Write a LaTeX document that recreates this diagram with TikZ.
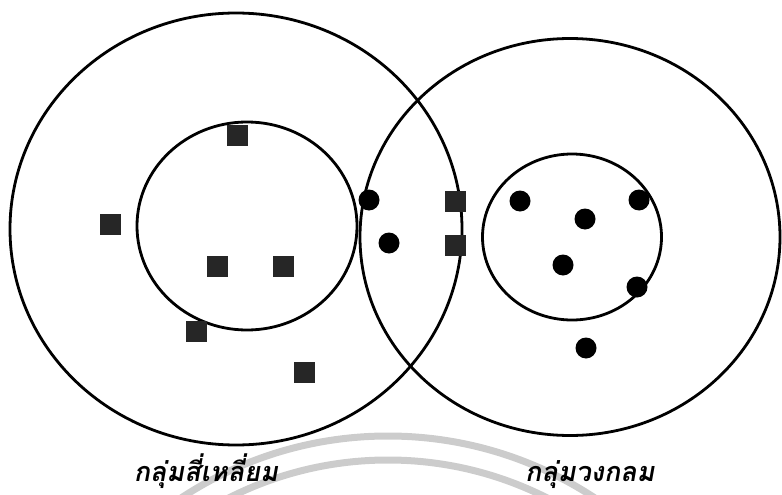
\documentclass[tikz,border=0pt]{standalone}
\usepackage{fontspec}
\newfontfamily\thaifont[Script=Thai, FakeSlant=0.18]{Loma}
\usetikzlibrary{shapes.geometric, positioning}

\begin{document}
\begin{tikzpicture}[x=1pt, y=-1pt]
    % styles
    \tikzstyle{ring} = [ellipse, draw, line width=2.8pt, inner sep=0pt]
    \tikzstyle{sq} = [rectangle, fill=black!85, minimum size=21pt, inner sep=0pt]
    \tikzstyle{blob} = [circle, fill=black, minimum size=21pt, inner sep=0pt]
    \tikzstyle{wm} = [line width=7pt, black!20]
    \tikzstyle{grouptext} = [font=\thaifont\bfseries\fontsize{27}{32}\selectfont, anchor=base, inner sep=0pt]

    \useasboundingbox (0,0) rectangle (782,495);

    % watermark
    \begin{scope}
        \clip (0,0) rectangle (782,495);
        \coordinate (wmc) at (388,812);
        \draw[wm] (wmc) circle[radius=376pt];
        \draw[wm] (wmc) circle[radius=352pt];
    \end{scope}

    % rings
    \node[ring, minimum width=452pt, minimum height=432pt] (sqOuter) at (236,229) {};
    \node[ring, minimum width=220pt, minimum height=208pt] (sqInner) at (247,226) {};
    \node[ring, minimum width=420pt, minimum height=397pt] (ciOuter) at (570,237) {};
    \node[ring, minimum width=179pt, minimum height=166pt] (ciInner) at (572,237) {};

    % squares
    \node[sq] (s1) at (237,135) {};
    \node[sq] (s2) at (110,224) {};
    \node[sq] (s3) at (217,266) {};
    \node[sq] (s4) at (283,266) {};
    \node[sq] (s5) at (196,331) {};
    \node[sq] (s6) at (304,372) {};
    \node[sq] (s7) at (455,201) {};
    \node[sq] (s8) at (455,245) {};

    % dots
    \node[blob] (c1) at (520,201) {};
    \node[blob] (c2) at (585,219) {};
    \node[blob] (c3) at (639,200) {};
    \node[blob] (c4) at (563,265) {};
    \node[blob] (c5) at (637,287) {};
    \node[blob] (c6) at (586,348) {};
    \node[blob] (c7) at (369,200) {};
    \node[blob] (c8) at (389,243) {};

    % labels
    \node[grouptext] (sqName) at (206,481) {กลุ่มสี่เหลี่ยม};
    \node[grouptext] (ciName) at (590,481) {กลุ่มวงกลม};
\end{tikzpicture}
\end{document}
